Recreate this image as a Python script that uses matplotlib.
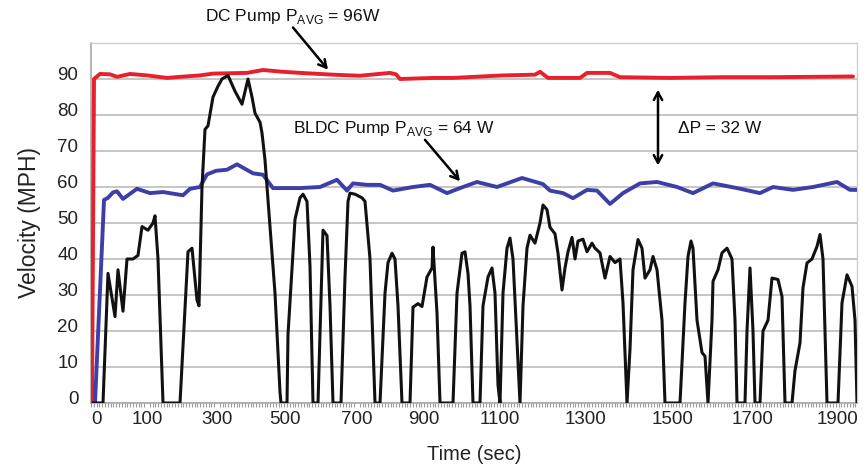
import matplotlib
matplotlib.use("Agg")
import matplotlib.pyplot as plt
from matplotlib.ticker import MultipleLocator, FixedLocator
from matplotlib.transforms import ScaledTranslation

plt.rcParams['font.family'] = ['Liberation Sans', 'DejaVu Sans']
plt.rcParams['mathtext.fontset'] = 'custom'
plt.rcParams['mathtext.rm'] = 'Liberation Sans'

# x axis is the chart's sample index (category axis); tick labels give time in sec
tick_pos = [5, 56, 126, 194, 266, 333, 409, 494, 582, 662, 747]
tick_lab = ['0', '100', '300', '500', '700', '900', '1100', '1300', '1500', '1700', '1900']
y_ticks = [0, 10, 20, 30, 40, 50, 60, 70, 80, 90]

# Drive-cycle vehicle speed (black)
cycle_x = [2, 12, 17, 24, 27, 32, 36, 42, 47, 51, 57, 62, 64, 67, 72, 89, 97, 101, 106, 108,
           111, 114, 117, 122, 127, 131, 137, 144, 151, 157, 161, 164, 169, 171, 174, 179, 184,
           189, 190, 196, 197, 204, 209, 212, 216, 219, 222, 227, 232, 236, 239, 242, 250, 254,
           257, 259, 264, 271, 274, 279, 284, 289, 294, 297, 301, 304, 307, 311, 319, 322, 327,
           331, 336, 341, 342, 346, 349, 362, 366, 371, 374, 377, 379, 382, 389, 392, 397, 401,
           404, 407, 409, 412, 416, 419, 422, 426, 429, 432, 436, 439, 444, 449, 452, 456, 459,
           464, 467, 471, 474, 477, 481, 484, 487, 492, 496, 501, 504, 509, 514, 519, 524, 529,
           532, 536, 539, 542, 547, 551, 554, 559, 562, 566, 571, 574, 589, 594, 597, 600, 602,
           606, 611, 614, 617, 621, 622, 627, 631, 636, 641, 644, 646, 654, 656, 659, 662, 664,
           669, 672, 677, 681, 687, 691, 694, 701, 704, 709, 712, 716, 721, 726, 729, 732, 736,
           747, 751, 756, 761, 764, 766]
cycle_v = [0, 0, 36, 24, 37, 25.5, 40, 40, 41, 49, 48, 50, 52, 40, 0, 0, 42, 43, 28.6, 27,
           60, 76, 77, 85, 88, 90, 91, 86.6, 83, 90, 85, 80.5, 78, 75, 67.5, 49, 30.5,
           3, 0, 0, 19, 51, 57, 58, 56, 38, 0, 0, 48, 46.5, 27, 0, 0, 35,
           56, 58.3, 58, 57, 56, 40, 0, 0, 30.5, 39, 41.6, 40, 27, 0, 0, 26.6, 27.6,
           26.8, 35, 37.5, 43.3, 25, 0, 0, 30.5, 41.6, 42, 36, 27, 0, 0, 27, 35, 37.5,
           30.5, 5, 0, 30.5, 43, 45.8, 40, 17, 0, 27, 43, 46.6, 44.4, 50, 55, 53.7, 48.8,
           47, 41.6, 31.4, 37.5, 42, 46, 40, 45, 45.5, 42, 44.4, 43, 41.7, 34.7, 40.7, 39, 40,
           27.8, 0, 15, 37, 45.4, 43, 34.7, 37, 40.7, 37, 23, 0, 0, 27.8, 40.7, 45, 43,
           23, 14, 13, 0, 23, 33.8, 37, 41.7, 43, 40, 23, 0, 0, 20, 37.5, 20, 0,
           0, 20, 23, 34.7, 34.3, 29.6, 0, 0, 9, 16.7, 32, 38.9, 40, 43.5, 46.8, 40, 0,
           0, 27.8, 35.6, 32.4, 23, 0]

# BLDC pump (blue)
bldc_x = [4, 8, 12, 13, 17, 22, 26, 32, 46, 59, 72, 92, 99, 109, 116, 125, 136, 146, 162, 172,
          182, 209, 229, 246, 256, 262, 276, 289, 302, 322, 339, 356, 369, 386, 406, 431, 452,
          459, 472, 482, 496, 506, 519, 532, 549, 566, 586, 602, 622, 646, 669, 682, 702, 722,
          746, 759, 766]
bldc_v = [0, 25, 50, 56.4, 57, 58.5, 58.8, 56.7, 59.5, 58.3, 58.6, 57.7, 59.5, 60, 63.5, 64.5,
          64.8, 66.3, 63.8, 63.4, 59.7, 59.7, 60, 62, 59, 61, 60.6, 60.6, 59, 60, 60.6, 58.3,
          59.7, 61.4, 60, 62.5, 60.8, 59, 58.3, 56.9, 59.2, 59, 55.3, 58.3, 61, 61.4, 60,
          58.3, 61, 59.7, 58.3, 60, 59.2, 60, 61.4, 59.2, 59.2]

# DC pump (red)
dc_x = [1, 2, 3, 9, 19, 26, 39, 56, 76, 89, 109, 122, 156, 172, 192, 209, 242, 269, 299, 305,
        309, 342, 362, 412, 444, 449, 457, 489, 496, 519, 529, 579, 629, 679, 762]
dc_v = [0, 45, 90, 91.4, 91.3, 90.6, 91.4, 91, 90.3, 90.6, 91, 91.5, 91.7, 92.5, 92, 91.7,
        91.2, 90.9, 91.7, 91.3, 90, 90.3, 90.3, 91, 91.2, 92, 90.3, 90.3, 91.7, 91.7, 90.5,
        90.3, 90.5, 90.5, 90.7]

fig = plt.figure(figsize=(8.66, 4.67), dpi=100)
ax = fig.add_axes([91 / 866, 64 / 467, 766 / 866, 360 / 467])

ax.plot(dc_x, dc_v, color='#E8202A', lw=2.8, solid_joinstyle='round',
        solid_capstyle='round', zorder=3)
ax.plot(bldc_x, bldc_v, color='#3C3FA6', lw=2.8, solid_joinstyle='round',
        solid_capstyle='round', zorder=3)
ax.plot(cycle_x, cycle_v, color='#111111', lw=2.2, solid_joinstyle='round',
        solid_capstyle='round', zorder=4)

ax.set_xlim(0, 766)
ax.set_ylim(0, 100)
ax.set_yticks(y_ticks)
ax.yaxis.set_minor_locator(FixedLocator([100]))
ax.grid(axis='y', which='both', color='#c6c6c6', lw=1.4)
ax.set_axisbelow(True)
ax.xaxis.set_major_locator(FixedLocator(tick_pos))
ax.set_xticklabels(tick_lab)
ax.xaxis.set_minor_locator(MultipleLocator(2.8))
ax.tick_params(axis='x', which='major', length=0, pad=6, labelsize=13.5, colors='#222222')
ax.tick_params(axis='x', which='minor', length=3, width=0.8, color='#9a9a9a', direction='out')
ax.tick_params(axis='y', which='both', length=0, pad=9, labelsize=13.5, colors='#222222')
for lab in ax.get_yticklabels():
    lab.set_transform(lab.get_transform() + ScaledTranslation(0, 5 / 100, fig.dpi_scale_trans))

for side in ['left', 'bottom']:
    ax.spines[side].set_color('#a8a8a8')
    ax.spines[side].set_linewidth(1.2)
for side in ['top', 'right']:
    ax.spines[side].set_color('#cfcfcf')
    ax.spines[side].set_linewidth(1.0)
    ax.spines[side].set_linestyle((0, (2, 1)))

ax.set_xlabel('Time (sec)', fontsize=14.5, color='#222222', labelpad=12)
ax.set_ylabel('Velocity (MPH)', fontsize=16.5, color='#222222', labelpad=12)

txt_kw = dict(fontsize=12.5, color='#111111', va='center', ha='left', annotation_clip=False)
arr = dict(arrowstyle='->,head_length=0.55,head_width=0.3', color='black', lw=1.8,
           shrinkA=0, shrinkB=0)
ax.annotate(r'DC Pump P$_{\mathrm{AVG}}$ = 96W', xy=(114, 107.4), xycoords='data', **txt_kw)
ax.annotate('', xy=(237, 92.6), xytext=(202, 104.3), arrowprops=arr, annotation_clip=False)
ax.annotate(r'BLDC Pump P$_{\mathrm{AVG}}$ = 64 W', xy=(202, 76.2), xycoords='data', **txt_kw)
ax.annotate('', xy=(369, 61.6), xytext=(334, 73.1), arrowprops=arr, annotation_clip=False)
ax.annotate('', xy=(567, 66.0), xytext=(567, 87.0),
            arrowprops=dict(arrowstyle='<->,head_length=0.55,head_width=0.3', color='black',
                            lw=1.8, shrinkA=0, shrinkB=0), annotation_clip=False)
ax.annotate('ΔP = 32 W', xy=(587, 76.2), xycoords='data', **txt_kw)

fig.savefig('out.png', dpi=100)
